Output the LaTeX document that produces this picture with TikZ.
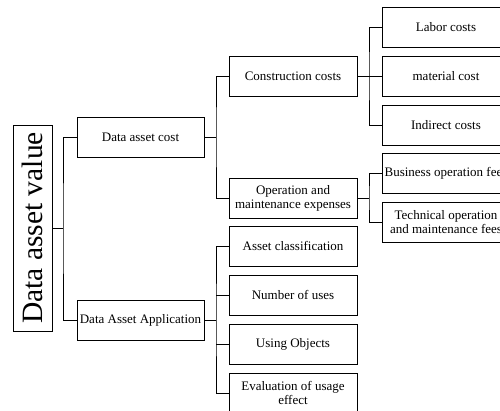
\documentclass[tikz,border=0pt]{standalone}
\usepackage{fontspec}
\setmainfont{Liberation Serif}
\begin{document}
\begin{tikzpicture}[x=1pt,y=-1pt,
  box/.style={draw, line width=1pt, minimum width=128pt, minimum height=40pt,
    inner sep=1pt, align=center, font=\fontsize{13}{14}\selectfont},
  link/.style={draw, line width=0.9pt}]
\useasboundingbox (0,0) rectangle (500,410);
\clip (0,0) rectangle (500,410);

% root
\node[draw, line width=1pt, rotate=90, minimum width=206pt, minimum height=39pt,
  inner sep=0pt, font=\fontsize{29.5}{30}\selectfont] (root) at (32.5,228) {Data asset value};

% second level
\node[box, minimum width=127pt] (cost) at (140.5,137) {Data asset cost};
\node[box, minimum width=127pt] (app) at (140.5,320) {Data Asset Application};

% third level
\node[box] (cc) at (293,76) {Construction costs};
\node[box] (om) at (293,198) {Operation and\\maintenance expenses};
\node[box] (ac) at (293,246) {Asset classification};
\node[box] (nu) at (293,295) {Number of uses};
\node[box] (uo) at (293,344) {Using Objects};
\node[box] (ev) at (293,393) {Evaluation of usage\\effect};

% leaves (running past the right edge)
\node[box] (lab) at (446,27) {Labor costs};
\node[box] (mat) at (446,76) {material cost};
\node[box] (ind) at (446,125) {Indirect costs};
\node[box] (bus) at (446,173) {Business operation fees};
\node[box] (tech) at (446,222) {Technical operation\\and maintenance fees};

% junctions
\coordinate (j1) at (63,228);
\coordinate (j2) at (216,137);
\coordinate (j3) at (369,76);
\coordinate (j4) at (369,198);
\coordinate (j5) at (216,320);

% connectors
\draw[link] (root.south) -- (j1);
\draw[link] (cost.west) -| (j1) |- (app.west);

\draw[link] (cost.east) -- (j2);
\draw[link] (cc.west) -| (j2) |- (om.west);

\draw[link] (cc.east) -- (mat.west);
\draw[link] (lab.west) -| (j3) |- (ind.west);

\draw[link] (om.east) -- (j4);
\draw[link] (bus.west) -| (j4) |- (tech.west);

\draw[link] (app.east) -- (j5);
\draw[link] (ac.west) -| (j5) |- (ev.west);
\draw[link] (nu.west) -- (nu.west -| j5);
\draw[link] (uo.west) -- (uo.west -| j5);
\end{tikzpicture}
\end{document}
